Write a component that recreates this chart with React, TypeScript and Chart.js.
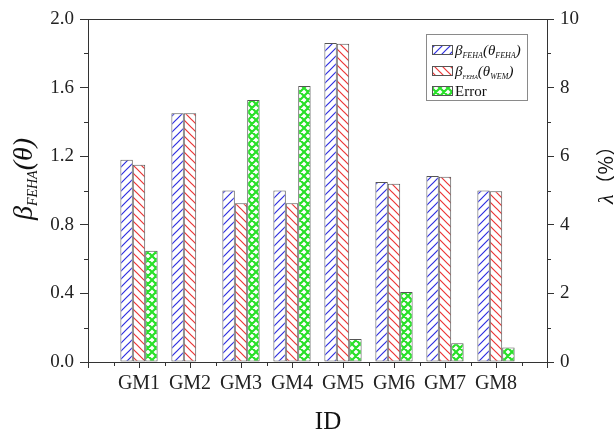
import React, { useEffect, useRef } from 'react';
import { Chart, registerables } from 'chart.js';

Chart.register(...registerables);

const categories = ['GM1', 'GM2', 'GM3', 'GM4', 'GM5', 'GM6', 'GM7', 'GM8'];
const betaFEHA = [1.18, 1.45, 1.0, 1.0, 1.86, 1.05, 1.085, 1.0];
const betaWEM = [1.15, 1.45, 0.925, 0.925, 1.855, 1.04, 1.08, 0.995];
const errorPct = [3.24, 0, 7.64, 8.05, 0.67, 2.04, 0.55, 0.42];
const leftTicks = [0, 0.4, 0.8, 1.2, 1.6, 2.0];
const leftMinor = [0.2, 0.6, 1.0, 1.4, 1.8];
const rightTicks = [0, 2, 4, 6, 8, 10];
const rightMinor = [1, 3, 5, 7, 9];

const SERIF = '"Liberation Serif", "Times New Roman", serif';

type Part = { t: string; size: number; italic?: boolean; dy?: number; family?: string };

function partFont(p: Part) {
  return `${p.italic ? 'italic ' : ''}${p.size}px ${p.family || SERIF}`;
}
function richWidth(ctx: CanvasRenderingContext2D, parts: Part[]) {
  let w = 0;
  for (const p of parts) {
    ctx.font = partFont(p);
    w += ctx.measureText(p.t).width;
  }
  return w;
}
function drawRich(ctx: CanvasRenderingContext2D, parts: Part[], x: number, y: number) {
  let cx = x;
  for (const p of parts) {
    ctx.font = partFont(p);
    ctx.fillText(p.t, cx, y + (p.dy || 0));
    cx += ctx.measureText(p.t).width;
  }
}

function makeHatch(main: CanvasRenderingContext2D, color: string, dir: number, size: number, lw: number) {
  const c = document.createElement('canvas');
  c.width = size;
  c.height = size;
  const g = c.getContext('2d')!;
  g.fillStyle = '#ffffff';
  g.fillRect(0, 0, size, size);
  g.strokeStyle = color;
  g.lineWidth = lw;
  g.beginPath();
  for (const k of [-size, 0, size]) {
    if (dir > 0) {
      g.moveTo(k - 1, size + 1);
      g.lineTo(k + size + 1, -1);
    } else {
      g.moveTo(k - 1, -1);
      g.lineTo(k + size + 1, size + 1);
    }
  }
  g.stroke();
  return main.createPattern(c, 'repeat')!;
}

function makeCross(main: CanvasRenderingContext2D, color: string, size: number, lw: number) {
  const c = document.createElement('canvas');
  c.width = size;
  c.height = size;
  const g = c.getContext('2d')!;
  g.fillStyle = '#ffffff';
  g.fillRect(0, 0, size, size);
  g.strokeStyle = color;
  g.lineWidth = lw;
  g.beginPath();
  for (const k of [-size, 0, size]) {
    g.moveTo(k - 1, size + 1);
    g.lineTo(k + size + 1, -1);
    g.moveTo(k - 1, -1);
    g.lineTo(k + size + 1, size + 1);
  }
  g.stroke();
  return main.createPattern(c, 'repeat')!;
}

export default function App() {
  const ref = useRef<HTMLCanvasElement | null>(null);

  useEffect(() => {
    document.body.style.margin = '0';
    const canvas = ref.current!;
    const ctx = canvas.getContext('2d')!;
    const bluePat = makeHatch(ctx, '#2f2fe0', 1, 8, 1.2);
    const redPat = makeHatch(ctx, '#ec3535', -1, 8, 1.2);
    const greenPat = makeCross(ctx, '#28e028', 8, 2.2);

    const labels = ['', ...categories, ''];
    const pad = (a: number[]) => [null, ...a, null];
    const axisColor = '#333333';

    const legendItems: { pat: CanvasPattern; parts: Part[] }[] = [
      {
        pat: bluePat,
        parts: [
          { t: 'β', size: 15, italic: true },
          { t: 'FEHA', size: 8, italic: true, dy: 3 },
          { t: '(θ', size: 15, italic: true },
          { t: 'FEHA', size: 8, italic: true, dy: 3 },
          { t: ')', size: 15, italic: true },
        ],
      },
      {
        pat: redPat,
        parts: [
          { t: 'β', size: 15, italic: true },
          { t: 'FEHA', size: 6, italic: true, dy: 3 },
          { t: '(θ', size: 15, italic: true },
          { t: 'WEM', size: 8, italic: true, dy: 3 },
          { t: ')', size: 15, italic: true },
        ],
      },
      { pat: greenPat, parts: [{ t: 'Error', size: 15 }] },
    ];

    const decor = {
      id: 'decor',
      afterDraw(chart: any) {
        const c: CanvasRenderingContext2D = chart.ctx;
        const area = chart.chartArea;
        const xs = chart.scales.x;
        const yl = chart.scales.y;
        const yr = chart.scales.y2;
        c.save();
        c.strokeStyle = axisColor;
        c.lineWidth = 1;
        c.beginPath();
        c.moveTo(area.left, Math.round(area.top) + 0.5);
        c.lineTo(area.right, Math.round(area.top) + 0.5);
        c.stroke();
        c.beginPath();
        for (const v of leftMinor) {
          const py = Math.round(yl.getPixelForValue(v)) + 0.5;
          c.moveTo(area.left - 4, py);
          c.lineTo(area.left, py);
        }
        for (const v of rightMinor) {
          const py = Math.round(yr.getPixelForValue(v)) + 0.5;
          c.moveTo(area.right, py);
          c.lineTo(area.right + 4, py);
        }
        for (let i = 0; i < labels.length - 1; i++) {
          const px = Math.round((xs.getPixelForValue(i) + xs.getPixelForValue(i + 1)) / 2) + 0.5;
          c.moveTo(px, area.bottom);
          c.lineTo(px, area.bottom + 4);
        }
        c.stroke();

        // legend
        const lx = 426, ly = 34, lw = 101, lh = 66;
        c.strokeStyle = '#8a8a8a';
        c.strokeRect(lx + 0.5, ly + 0.5, lw, lh);
        const centers = [50, 71, 91];
        legendItems.forEach((it, i) => {
          const cy = centers[i];
          c.fillStyle = it.pat;
          c.fillRect(432, cy - 5, 21, 10);
          c.strokeStyle = '#555555';
          c.strokeRect(432.5, cy - 4.5, 20, 9);
          c.fillStyle = '#111111';
          c.textBaseline = 'alphabetic';
          c.textAlign = 'left';
          drawRich(c, it.parts, 455, cy + 5);
        });

        // axis titles
        c.fillStyle = '#111111';
        c.textBaseline = 'alphabetic';
        c.textAlign = 'left';
        const leftTitle: Part[] = [
          { t: 'β', size: 28, italic: true },
          { t: 'FEHA', size: 14, italic: true, dy: 5 },
          { t: '(θ)', size: 28, italic: true },
        ];
        c.save();
        c.translate(32, 179);
        c.rotate(-Math.PI / 2);
        drawRich(c, leftTitle, -richWidth(c, leftTitle) / 2, 0);
        c.restore();

        const rightTitle: Part[] = [
          { t: 'λ', size: 22, italic: true },
          { t: '（%）', size: 20, family: '"Noto Sans CJK SC", ' + SERIF },
        ];
        c.save();
        c.translate(613, 170);
        c.rotate(-Math.PI / 2);
        drawRich(c, rightTitle, -richWidth(c, rightTitle) / 2, 0);
        c.restore();

        c.font = `25px ${SERIF}`;
        c.textAlign = 'center';
        c.fillText('ID', 328, 429);
        c.restore();
      },
    };

    const common = {
      borderColor: '#555555',
      borderWidth: 1,
      borderSkipped: false,
      categoryPercentage: 0.73,
      barPercentage: 1.0,
    };

    const chart = new Chart(canvas, {
      type: 'bar',
      data: {
        labels,
        datasets: [
          { label: 'βFEHA(θFEHA)', data: pad(betaFEHA), backgroundColor: bluePat, yAxisID: 'y', ...common },
          { label: 'βFEHA(θWEM)', data: pad(betaWEM), backgroundColor: redPat, yAxisID: 'y', ...common },
          { label: 'Error', data: pad(errorPct), backgroundColor: greenPat, yAxisID: 'y2', ...common },
        ] as any,
      },
      options: {
        responsive: false,
        animation: false,
        devicePixelRatio: 1,
        layout: { padding: { top: 19, left: 0, right: 0, bottom: 0 } },
        plugins: { legend: { display: false }, tooltip: { enabled: false } },
        scales: {
          x: {
            type: 'category',
            offset: false,
            grid: { offset: false, drawOnChartArea: false, drawTicks: true, tickLength: 6, color: axisColor, lineWidth: 1 },
            border: { display: true, color: axisColor, width: 1 },
            ticks: { font: { family: SERIF, size: 20 }, color: '#222222', padding: 4, maxRotation: 0, autoSkip: false },
            afterFit: (s: any) => { s.height = 72; },
          },
          y: {
            position: 'left',
            min: 0,
            max: 2,
            afterBuildTicks: (s: any) => { s.ticks = leftTicks.map((v) => ({ value: v })); },
            ticks: { font: { family: SERIF, size: 19 }, color: '#222222', padding: 6, callback: (v: any) => Number(v).toFixed(1) },
            grid: { drawOnChartArea: false, drawTicks: true, tickLength: 8, color: axisColor },
            border: { display: true, color: axisColor, width: 1 },
            afterFit: (s: any) => { s.width = 88; },
          },
          y2: {
            position: 'right',
            min: 0,
            max: 10,
            afterBuildTicks: (s: any) => { s.ticks = rightTicks.map((v) => ({ value: v })); },
            ticks: { font: { family: SERIF, size: 19 }, color: '#222222', padding: 6, callback: (v: any) => String(v) },
            grid: { drawOnChartArea: false, drawTicks: true, tickLength: 7, color: axisColor },
            border: { display: true, color: axisColor, width: 1 },
            afterFit: (s: any) => { s.width = 67; },
          },
        },
      } as any,
      plugins: [decor],
    });

    return () => chart.destroy();
  }, []);

  return (
    <div style={{ width: 614, height: 434, background: '#ffffff' }}>
      <canvas ref={ref} width={614} height={434} style={{ display: 'block' }} />
    </div>
  );
}
